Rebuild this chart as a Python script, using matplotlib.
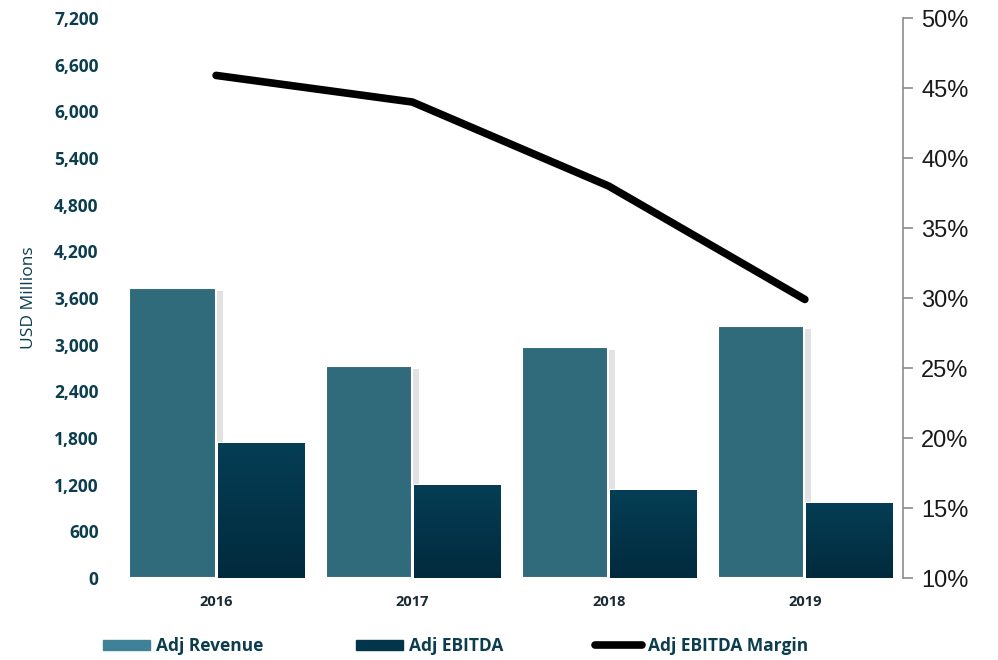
import numpy as np
import matplotlib.pyplot as plt
import matplotlib.patheffects as pe
from matplotlib.ticker import FuncFormatter, MultipleLocator
from matplotlib.patches import Patch
from matplotlib.lines import Line2D

years = ['2016', '2017', '2018', '2019']
revenue = [3730, 2725, 2970, 3240]
ebitda = [1740, 1195, 1130, 965]
margin = [45.9, 44.0, 38.0, 29.9]

teal = '#2f6b7b'
navy_top = np.array([5, 62, 85]) / 255
navy_bot = np.array([2, 42, 61]) / 255
txt = '#0b3d4e'

fig = plt.figure(figsize=(9.98, 6.6), dpi=100)
ax = fig.add_axes([0.1182, 0.1242, 0.7866, 0.8485])
x = np.arange(len(years))
w = 0.44

shadow = [pe.SimplePatchShadow(offset=(5, -2), shadow_rgbFace='#a0a0a0', alpha=0.3), pe.Normal()]
b1 = ax.bar(x - 0.222, revenue, w, color=teal, edgecolor='white', linewidth=1.5, zorder=2)
b2 = ax.bar(x + 0.228, ebitda, w, color=navy_top, edgecolor='white', linewidth=1.5, zorder=2)
for r in b1:
    r.set_path_effects(shadow)

# vertical gradient on the EBITDA bars
grad = np.linspace(0, 1, 256)[:, None, None]
img = navy_top * (1 - grad) + navy_bot * grad
for r in b2:
    x0, y0 = r.get_x(), r.get_y()
    im = ax.imshow(img, extent=[x0, x0 + r.get_width(), y0, y0 + r.get_height()],
                   aspect='auto', origin='upper', zorder=3)
    im.set_clip_path(r)

ax.set_xlim(-0.5, 3.5)
ax.set_ylim(0, 7200)
ax.yaxis.set_major_locator(MultipleLocator(600))
ax.yaxis.set_major_formatter(FuncFormatter(lambda v, p: f'{int(v):,}'))
ax.set_xticks(x)
ax.set_xticklabels(years)
for s in ax.spines.values():
    s.set_visible(False)
ax.tick_params(axis='y', length=0, pad=14, labelsize=12.5, labelcolor=txt)
ax.tick_params(axis='x', length=0, pad=12, labelsize=10.5, labelcolor='#1a2a33')
for t in ax.get_yticklabels():
    t.set_fontfamily('Open Sans')
    t.set_fontweight('bold')
for t in ax.get_xticklabels():
    t.set_fontfamily('Open Sans')
    t.set_fontweight('bold')
ax.set_ylabel('USD Millions', fontsize=12.5, color=txt, family='Open Sans', labelpad=12)

ax2 = ax.twinx()
ax2.plot(x, margin, color='black', linewidth=5.5, solid_capstyle='round', solid_joinstyle='round')
ax2.set_ylim(10, 50)
ax2.yaxis.set_major_locator(MultipleLocator(5))
ax2.yaxis.set_major_formatter(FuncFormatter(lambda v, p: f'{int(v)}%'))
for k in ['top', 'left', 'bottom']:
    ax2.spines[k].set_visible(False)
ax2.spines['right'].set_color('#8c8c8c')
ax2.spines['right'].set_linewidth(1.2)
ax2.tick_params(axis='y', direction='out', length=7, width=1.2, color='#8c8c8c',
                labelsize=17, labelcolor='#1a1a1a', pad=6)
for t in ax2.get_yticklabels():
    t.set_fontfamily('Liberation Sans')

handles = [Patch(color='#3f8196'), Patch(color='#03354a'),
           Line2D([], [], color='black', linewidth=5.5, solid_capstyle='round')]
fig.legend(handles, ['Adj Revenue', 'Adj EBITDA', 'Adj EBITDA Margin'], loc='lower left',
           bbox_to_anchor=(0.088, -0.016), ncol=3, frameon=False, handlelength=2.7,
           handleheight=0.5, handletextpad=0.35, columnspacing=5.3,
           prop={'family': 'Open Sans', 'weight': 'bold', 'size': 12.5},
           labelcolor=txt)

fig.savefig('out.png', dpi=100)
